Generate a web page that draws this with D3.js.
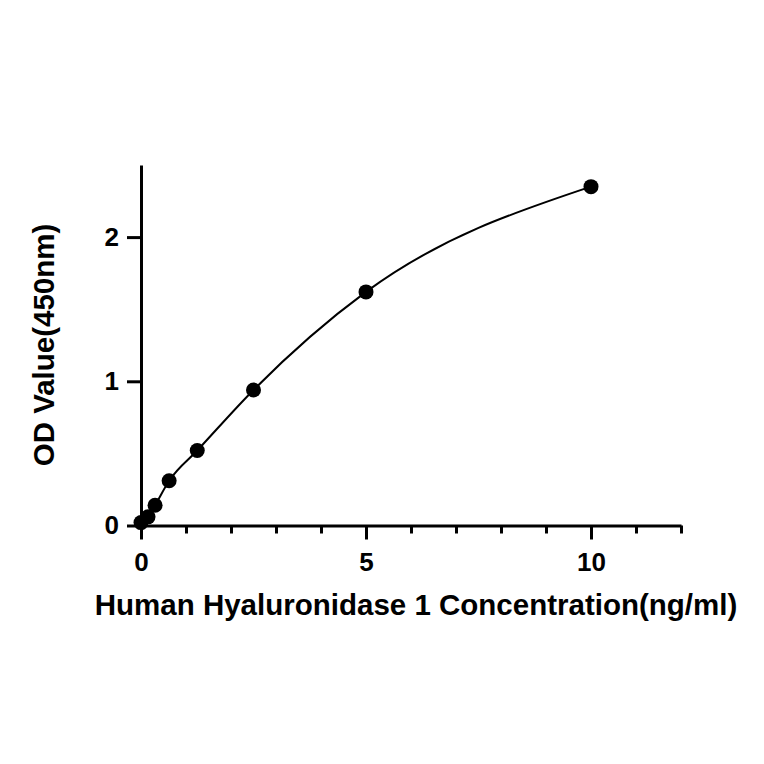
<!DOCTYPE html>
<html>
<head>
<meta charset="utf-8">
<script src="https://cdn.jsdelivr.net/npm/d3@7"></script>
<style>
  html, body { margin: 0; padding: 0; background: #fff; }
  svg { display: block; }
</style>
</head>
<body>
<svg id="chart" width="764" height="764"></svg>
<script>
// standard curve points
const concentration = [0, 0.156, 0.3125, 0.625, 1.25, 2.5, 5, 10];
const odValue = [0.02, 0.06, 0.14, 0.31, 0.52, 0.94, 1.62, 2.35];

const xMajorTicks = [0, 5, 10];
const xMinorTicks = [1, 2, 3, 4, 6, 7, 8, 9, 11, 12];
const yTicks = [0, 1, 2];

const xTitle = "Human Hyaluronidase 1 Concentration(ng/ml)";
const yTitle = "OD Value(450nm)";

const svg = d3.select("#chart");
const font = "'Liberation Sans', Arial, sans-serif";

const x = d3.scaleLinear().domain([0, 12]).range([141, 681]);
const y = d3.scaleLinear().domain([0, 2.5]).range([525.5, 165]);

const points = concentration.map((c, i) => ({ c, v: odValue[i] }));

// x axis: majors labelled, minors short
const xAxis = svg.append("g").attr("transform", `translate(0,${y(0)})`);
xAxis.call(d3.axisBottom(x).tickValues(xMajorTicks).tickFormat(d3.format("d"))
  .tickSize(14).tickPadding(13).tickSizeOuter(0));
xAxis.append("g").call(d3.axisBottom(x).tickValues(xMinorTicks).tickSize(8).tickFormat(""))
  .select(".domain").remove();

// y axis
const yAxis = svg.append("g").attr("transform", `translate(${x(0)},0)`);
yAxis.call(d3.axisLeft(y).tickValues(yTicks).tickFormat(d3.format("d"))
  .tickSize(14).tickPadding(8).tickSizeOuter(0));

svg.selectAll(".domain").attr("stroke", "#000").attr("stroke-width", 3);
svg.selectAll(".tick line").attr("stroke", "#000").attr("stroke-width", 3);
svg.selectAll(".tick text")
  .attr("fill", "#000")
  .style("font-family", font)
  .style("font-weight", "bold")
  .style("font-size", "26px");

// fitted curve
const line = d3.line()
  .x(d => x(d.c))
  .y(d => y(d.v))
  .curve(d3.curveMonotoneX);

svg.append("path")
  .datum(points)
  .attr("fill", "none")
  .attr("stroke", "#000")
  .attr("stroke-width", 2)
  .attr("d", line);

svg.append("g")
  .selectAll("circle")
  .data(points)
  .join("circle")
  .attr("cx", d => x(d.c))
  .attr("cy", d => y(d.v))
  .attr("r", 7.5)
  .attr("fill", "#000");

// titles
svg.append("text")
  .attr("x", 416)
  .attr("y", 615)
  .attr("text-anchor", "middle")
  .style("font-family", font)
  .style("font-weight", "bold")
  .style("font-size", "29.5px")
  .text(xTitle);

svg.append("text")
  .attr("transform", "translate(54,345) rotate(-90)")
  .attr("text-anchor", "middle")
  .style("font-family", font)
  .style("font-weight", "bold")
  .style("font-size", "29.5px")
  .text(yTitle);
</script>
</body>
</html>
